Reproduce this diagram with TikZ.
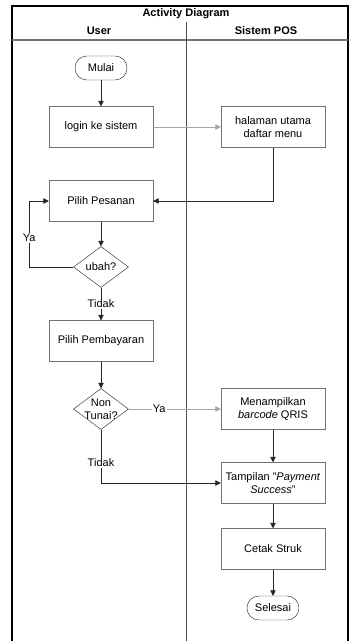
\documentclass[tikz,border=0pt]{standalone}
\usepackage{fontspec}
\setmainfont{Liberation Sans}
\usetikzlibrary{arrows.meta,positioning,shapes.geometric}

\begin{document}
\begin{tikzpicture}[x=0.03cm, y=-0.03cm,
    font=\fontsize{9.4}{11}\selectfont,
    box/.style={draw=black!55, minimum width=3.12cm, minimum height=1.23cm,
                align=center, inner sep=2pt},
    term/.style={draw=black!80, rounded corners=0.36cm, minimum width=1.56cm,
                 minimum height=0.72cm, inner sep=1pt},
    decision/.style={draw=black!80, diamond, minimum width=1.65cm,
                     minimum height=1.23cm, inner sep=0pt},
    lbl/.style={fill=white, inner sep=1pt},
    arr/.style={-{Triangle[length=1.6mm,width=1.6mm]}, draw=black!85},
    faint/.style={arr, draw=black!35}
  ]
  \useasboundingbox (0,0) rectangle (350,641);

  % swimlane frame
  \draw[line width=0.9pt] (12,641) -- (12,6) -- (348,6) -- (348,641);
  \draw[draw=black!55, line width=1.2pt] (12,40) -- (348,40);
  \draw[draw=black!70, line width=0.6pt] (186,22) -- (186,641);
  \node[font=\fontsize{9.4}{11}\selectfont\bfseries] (title) at (186,14) {Activity Diagram};
  \node[font=\fontsize{9.4}{11}\selectfont\bfseries] (user) at (99,31) {User};
  \node[font=\fontsize{9.4}{11}\selectfont\bfseries] (pos) at (266,31) {Sistem POS};

  % steps
  \node[term] (mulai) at (101,68) {Mulai};
  \node[box] (login) at (101,127) {login ke sistem};
  \node[box] (menu) at (273,127) {halaman utama\\daftar menu};
  \node[box] (pesan) at (101,201) {Pilih Pesanan};
  \node[decision, label=center:ubah?] (ubah) at (101,267) {};
  \node[box] (bayar) at (101,341) {Pilih Pembayaran};
  \node[decision, label={[align=center]center:Non\\Tunai?}] (tunai) at (101,409) {};
  \node[box] (qris) at (273,409) {Menampilkan\\\textit{barcode} QRIS};
  \node[box] (sukses) at (273,483) {Tampilan "\textit{Payment}\\\textit{Success}"};
  \node[box] (struk) at (273,549) {Cetak Struk};
  \node[term] (selesai) at (273,608) {Selesai};

  \draw[arr] (mulai) -- (login);
  \draw[faint] (login) -- (menu);
  \draw[arr] (menu.south) |- (pesan.east);
  \draw[arr] (pesan) -- (ubah);
  \draw[arr] (ubah.west) -- ++(-44,0) |- node[lbl, pos=0.22] {Ya} (pesan.west);
  \draw[arr] (ubah) -- node[lbl] {Tidak} (bayar);
  \draw[arr] (bayar) -- (tunai);
  \draw[faint] (tunai) -- node[lbl, pos=0.33] {Ya} (qris);
  \draw[arr] (tunai.south) |- node[lbl, pos=0.31] {Tidak} (sukses.west);
  \draw[arr] (qris) -- (sukses);
  \draw[arr] (sukses) -- (struk);
  \draw[arr] (struk) -- (selesai);
\end{tikzpicture}
\end{document}
